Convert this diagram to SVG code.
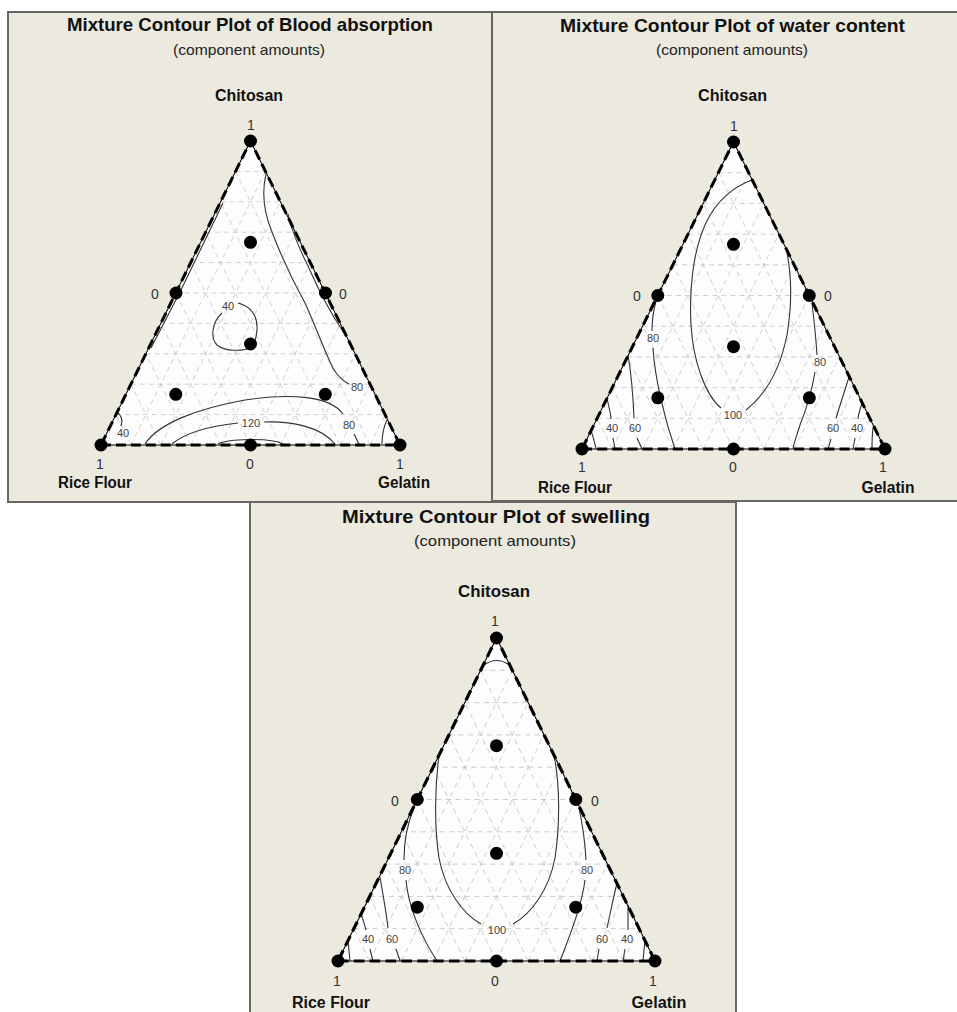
<svg xmlns="http://www.w3.org/2000/svg" xmlns:xlink="http://www.w3.org/1999/xlink" width="957" height="1012" viewBox="0 0 957 1012">
<style>
.panel{fill:#ECE9DF;stroke:#666;stroke-width:2}
.title{font-family:"Liberation Sans",Arial,sans-serif;font-weight:bold;font-size:19px;fill:#111;text-anchor:middle}
.sub{font-family:"Liberation Sans",Arial,sans-serif;font-size:14.5px;fill:#222;text-anchor:middle}
.axis{font-family:"Liberation Sans",Arial,sans-serif;font-weight:bold;font-size:16px;fill:#111;text-anchor:middle}
.tick{font-family:"Liberation Sans",Arial,sans-serif;font-size:14px;fill:#333;text-anchor:middle}
.cl{font-family:"Liberation Sans",Arial,sans-serif;font-size:11px;fill:#444;text-anchor:middle}
.grid{fill:none;stroke:#c4c4c4;stroke-width:0.8;stroke-dasharray:5 4}
.contour{fill:none;stroke:#333;stroke-width:1.1}
.dot{fill:#000}
</style>
<defs>
<g id="tri">
<polygon points="0,0 300,0 150,-300" fill="#fdfdfd"/>
<path class="grid" d="M15,-30H285 M30,-60H270 M45,-90H255 M60,-120H240 M75,-150H225 M90,-180H210 M105,-210H195 M120,-240H180 M135,-270H165 M30,0L165,-270 M60,0L180,-240 M90,0L195,-210 M120,0L210,-180 M150,0L225,-150 M180,0L240,-120 M210,0L255,-90 M240,0L270,-60 M270,0L285,-30 M270,0L135,-270 M240,0L120,-240 M210,0L105,-210 M180,0L90,-180 M150,0L75,-150 M120,0L60,-120 M90,0L45,-90 M60,0L30,-60 M30,0L15,-30"/>
</g>
<g id="edge">
<polygon points="0,0 300,0 150,-300" fill="none" stroke="#000" stroke-width="1"/>
<polygon points="0,0 300,0 150,-300" fill="none" stroke="#000" stroke-width="3" stroke-dasharray="10 5"/>
</g>
</defs>
<rect width="957" height="1012" fill="#fff"/>

<g id="panel-blood">
<rect class="panel" x="8" y="12" width="484" height="490"/>
<text class="title" x="250" y="31" textLength="366" lengthAdjust="spacingAndGlyphs">Mixture Contour Plot of Blood absorption</text>
<text class="sub" x="249" y="55" textLength="152" lengthAdjust="spacingAndGlyphs">(component amounts)</text>
<text class="axis" x="249" y="101" textLength="68" lengthAdjust="spacingAndGlyphs">Chitosan</text>
<use xlink:href="#tri" transform="translate(101,445) scale(0.99667,1.01333)"/>
<g class="contours">
<path class="contour" d="M266,174 C261,195 265,215 272,232 C282,258 295,285 305,303 C315,325 325,352 333,368 C338,377 343,381 349,384"/>
<path class="contour" d="M288,214 C292,232 300,250 308,266 C318,288 328,310 346,336"/>
<path class="contour" d="M145,444 C158,424 195,409 245,400 C292,393 330,396 343,414"/>
<path class="contour" d="M354,434 L359,444"/>
<path class="contour" d="M172,444 C185,433 210,426 238,423"/>
<path class="contour" d="M264,422 C290,421 320,426 335,444"/>
<path class="contour" d="M218,444 C228,439 270,437 283,444"/>
<path class="contour" d="M238,303 C250,306 258,315 257,330 C256,340 254,346 250,348 C243,351 225,352 217,345 C210,338 212,322 222,313"/>
<path class="contour" d="M117,412 C121,415 123,420 121,426"/>
<path class="contour" d="M387,420 C383,428 382,436 382,444"/>
<path class="contour" d="M223,203 L180,292 L151,348"/>
</g>
<use xlink:href="#edge" transform="translate(101,445) scale(0.99667,1.01333)"/>
<text class="cl" x="228" y="310">40</text>
<text class="cl" x="357" y="391">80</text>
<text class="cl" x="349" y="429">80</text>
<text class="cl" x="251" y="427">120</text>
<text class="cl" x="123" y="437">40</text>
<circle class="dot" cx="250.5" cy="141" r="6.5"/>
<circle class="dot" cx="101" cy="445" r="6.5"/>
<circle class="dot" cx="400" cy="445" r="6.5"/>
<circle class="dot" cx="250.5" cy="445" r="6.5"/>
<circle class="dot" cx="176" cy="293" r="6.5"/>
<circle class="dot" cx="325.5" cy="293" r="6.5"/>
<circle class="dot" cx="250.5" cy="344" r="6.5"/>
<circle class="dot" cx="250.5" cy="242.3" r="6.5"/>
<circle class="dot" cx="175.8" cy="394.3" r="6.5"/>
<circle class="dot" cx="325.3" cy="394.3" r="6.5"/>
<text class="tick" x="251" y="130">1</text>
<text class="tick" x="155" y="299">0</text>
<text class="tick" x="343" y="299">0</text>
<text class="tick" x="100" y="469">1</text>
<text class="tick" x="250" y="469">0</text>
<text class="tick" x="400" y="469">1</text>
<text class="axis" x="95" y="488" textLength="74" lengthAdjust="spacingAndGlyphs">Rice Flour</text>
<text class="axis" x="404" y="488" textLength="52" lengthAdjust="spacingAndGlyphs">Gelatin</text>
</g>

<g id="panel-water">
<rect class="panel" x="492" y="12" width="470" height="489"/>
<text class="title" x="732.5" y="31.5" textLength="345" lengthAdjust="spacingAndGlyphs">Mixture Contour Plot of water content</text>
<text class="sub" x="732" y="55" textLength="152" lengthAdjust="spacingAndGlyphs">(component amounts)</text>
<text class="axis" x="732.5" y="101" textLength="69" lengthAdjust="spacingAndGlyphs">Chitosan</text>
<use xlink:href="#tri" transform="translate(582,449) scale(1.01,1.02333)"/>
<g class="contours">
<path class="contour" d="M752,180 C735,186 716,200 705,225 C693,252 689,290 691,325 C693,360 705,395 721,408"/>
<path class="contour" d="M746,410 C765,395 780,370 787,335 C792,305 792,275 786,248"/>
<path class="contour" d="M656,301 C653,312 652,322 652,331"/>
<path class="contour" d="M653,348 C655,380 665,420 675,449"/>
<path class="contour" d="M628,355 C631,372 633,395 634,418"/>
<path class="contour" d="M637,438 L642,449"/>
<path class="contour" d="M607,398 C609,408 611,414 611,419"/>
<path class="contour" d="M613,438 L615,449"/>
<path class="contour" d="M591,430 C593,437 595,443 596,449"/>
<path class="contour" d="M812,303 C814,320 816,338 817,355"/>
<path class="contour" d="M815,372 C812,390 806,410 800,425 C797,435 794,442 793,449"/>
<path class="contour" d="M849,377 C845,390 840,405 836,418"/>
<path class="contour" d="M831,439 L828,449"/>
<path class="contour" d="M862,403 C860,410 858,415 858,419"/>
<path class="contour" d="M855,438 L853,449"/>
<path class="contour" d="M873,428 C872,436 872,442 872,449"/>
</g>
<use xlink:href="#edge" transform="translate(582,449) scale(1.01,1.02333)"/>
<text class="cl" x="733" y="419">100</text>
<text class="cl" x="653" y="342">80</text>
<text class="cl" x="820" y="366">80</text>
<text class="cl" x="635" y="432">60</text>
<text class="cl" x="612" y="432">40</text>
<text class="cl" x="833" y="432">60</text>
<text class="cl" x="857" y="432">40</text>
<circle class="dot" cx="733.5" cy="142" r="6.5"/>
<circle class="dot" cx="582" cy="449" r="6.5"/>
<circle class="dot" cx="885" cy="449" r="6.5"/>
<circle class="dot" cx="733.5" cy="449" r="6.5"/>
<circle class="dot" cx="657.8" cy="295.5" r="6.5"/>
<circle class="dot" cx="809.3" cy="295.5" r="6.5"/>
<circle class="dot" cx="733.5" cy="346.7" r="6.5"/>
<circle class="dot" cx="733.5" cy="244.3" r="6.5"/>
<circle class="dot" cx="657.8" cy="397.8" r="6.5"/>
<circle class="dot" cx="809.3" cy="397.8" r="6.5"/>
<text class="tick" x="734" y="131">1</text>
<text class="tick" x="637" y="301">0</text>
<text class="tick" x="828" y="301">0</text>
<text class="tick" x="582" y="472">1</text>
<text class="tick" x="733" y="472">0</text>
<text class="tick" x="883" y="472">1</text>
<text class="axis" x="575" y="493" textLength="74" lengthAdjust="spacingAndGlyphs">Rice Flour</text>
<text class="axis" x="888" y="493" textLength="53" lengthAdjust="spacingAndGlyphs">Gelatin</text>
</g>

<g id="panel-swelling">
<rect class="panel" x="250" y="502" width="486" height="515"/>
<text class="title" x="496" y="523" textLength="308" lengthAdjust="spacingAndGlyphs">Mixture Contour Plot of swelling</text>
<text class="sub" x="495" y="546" textLength="162" lengthAdjust="spacingAndGlyphs">(component amounts)</text>
<text class="axis" x="494" y="596.5" textLength="72" lengthAdjust="spacingAndGlyphs">Chitosan</text>
<use xlink:href="#tri" transform="translate(338,961) scale(1.05667,1.07667)"/>
<g class="contours">
<path class="contour" d="M484,665 Q496.5,656 509.5,665"/>
<path class="contour" d="M439,755 C435,785 434,825 439,858 C445,890 463,914 481,924"/>
<path class="contour" d="M513,924 C531,914 549,890 555,858 C560,825 560,785 554,755"/>
<path class="contour" d="M414,808 C408,822 404,840 404,860"/>
<path class="contour" d="M406,880 C408,905 420,935 437,961"/>
<path class="contour" d="M380,877 C383,895 386,910 388,928"/>
<path class="contour" d="M396,949 L400,961"/>
<path class="contour" d="M361,913 C363,920 365,926 366,930"/>
<path class="contour" d="M370,949 L373,961"/>
<path class="contour" d="M348,940 L350,961"/>
<path class="contour" d="M579,808 C582,822 585,840 586,860"/>
<path class="contour" d="M585,880 C582,905 570,935 560,961"/>
<path class="contour" d="M617,883 C614,895 611,910 607,928"/>
<path class="contour" d="M599,949 L597,961"/>
<path class="contour" d="M628,905 C628,915 628,922 628,930"/>
<path class="contour" d="M625,949 L623,961"/>
<path class="contour" d="M645,940 L643,961"/>
</g>
<use xlink:href="#edge" transform="translate(338,961) scale(1.05667,1.07667)"/>
<text class="cl" x="497" y="934">100</text>
<text class="cl" x="405" y="874">80</text>
<text class="cl" x="587" y="874">80</text>
<text class="cl" x="392" y="943">60</text>
<text class="cl" x="368" y="943">40</text>
<text class="cl" x="602" y="943">60</text>
<text class="cl" x="627" y="943">40</text>
<circle class="dot" cx="496.5" cy="638" r="6.5"/>
<circle class="dot" cx="338" cy="961" r="6.5"/>
<circle class="dot" cx="655" cy="961" r="6.5"/>
<circle class="dot" cx="496.5" cy="961" r="6.5"/>
<circle class="dot" cx="417.3" cy="799.5" r="6.5"/>
<circle class="dot" cx="575.8" cy="799.5" r="6.5"/>
<circle class="dot" cx="496.5" cy="853.3" r="6.5"/>
<circle class="dot" cx="496.5" cy="745.7" r="6.5"/>
<circle class="dot" cx="417.3" cy="907.2" r="6.5"/>
<circle class="dot" cx="575.8" cy="907.2" r="6.5"/>
<text class="tick" x="495" y="626">1</text>
<text class="tick" x="395" y="806">0</text>
<text class="tick" x="595" y="806">0</text>
<text class="tick" x="337" y="986">1</text>
<text class="tick" x="495" y="986">0</text>
<text class="tick" x="653" y="986">1</text>
<text class="axis" x="331" y="1008" textLength="78" lengthAdjust="spacingAndGlyphs">Rice Flour</text>
<text class="axis" x="659" y="1008" textLength="55" lengthAdjust="spacingAndGlyphs">Gelatin</text>
</g>
</svg>
